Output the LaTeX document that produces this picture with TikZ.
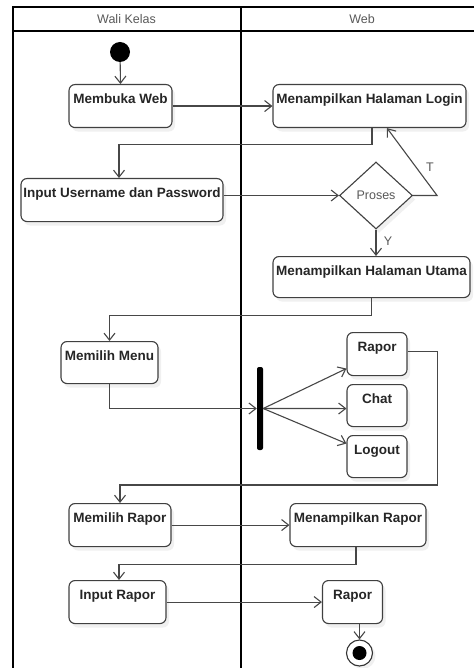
\documentclass[tikz,border=0pt]{standalone}
\usepackage{fontspec}
\setmainfont{Liberation Sans}
\usepackage{xcolor}
\usetikzlibrary{shapes,arrows.meta,positioning,calc,shadows}

\begin{document}
\begin{tikzpicture}[x=1pt, y=-1pt,
            act/.style={draw=black!75, line width=1.1pt, rounded corners=6pt, fill=white, text=black!85,
                font=\fontsize{13.5}{15}\selectfont\bfseries, inner xsep=2pt, inner ysep=0pt,
                text height=18.5pt, text depth=24.5pt, anchor=north,
                drop shadow={shadow xshift=3pt, shadow yshift=-4pt, opacity=0.12}},
            flow/.style={draw=black!72, line width=1.1pt, -{Straight Barb[length=7pt, width=11pt]}},
            lane/.style={draw=black, line width=1.2pt},
            lbl/.style={font=\fontsize{12.5}{14}\selectfont, text=black!65}]
            \useasboundingbox (0,0) rectangle (474,668);

            % Swimlanes
            \draw[lane] (474,7) -- (13,7) -- (13,668);
            \draw[lane] (13,31) -- (474,31);
            \draw[lane] (241,7) -- (241,668);
            \node[lbl] (hwali) at (126.5,19) {Wali Kelas};
            \node[lbl] (hweb) at (362,19) {Web};

            % Start and login
            \node[circle, fill=black, minimum size=20pt, inner sep=0pt] (start) at (120,52) {};
            \node[act, minimum width=103pt] (bukaweb) at (120.5,84) {Membuka Web};
            \node[act, minimum width=193pt] (login) at (369.5,84) {Menampilkan Halaman Login};
            \node[act, minimum width=202pt] (input) at (122,178) {Input Username dan Password};
            \node[diamond, draw=black!75, line width=1.1pt, fill=white, minimum width=73pt, minimum height=67pt,
                inner sep=0pt, lbl, drop shadow={shadow xshift=3pt, shadow yshift=-4pt, opacity=0.12}] (proses) at (376,195.5) {Proses};
            \node[lbl] (tlbl) at (430,167) {T};
            \node[lbl] (ylbl) at (388,241) {Y};
            \node[act, minimum width=197pt, text depth=22.5pt] (utama) at (371.5,256) {Menampilkan Halaman Utama};

            \draw[flow] (start) -- (bukaweb.north);
            \draw[flow] (bukaweb.east) -- (login.west);
            \draw[flow] ([xshift=2.5pt]login.south) -- ++(0,16) -| ([xshift=-3pt]input.north);
            \draw[flow] (input.east |- proses) -- (proses.west);
            \draw[flow] (proses.east) -- ++(24,0) -- ([xshift=17.5pt]login.south);
            \draw[flow] (proses.south) -- (proses.south |- utama.north);

            % Menu
            \node[act, minimum width=97pt, text depth=23.5pt] (menu) at (109.5,341) {Memilih Menu};
            \node[fill=black, minimum width=6pt, minimum height=83pt, inner sep=0pt, rounded corners=2pt] (bar) at (260,408.5) {};
            \node[act, minimum width=60pt] (rapor) at (377,332) {Rapor};
            \node[act, minimum width=60pt, text depth=23.5pt] (chat) at (377,384) {Chat};
            \node[act, minimum width=60pt, text depth=23.5pt] (logout) at (377,435) {Logout};

            \draw[flow] (utama.south) -- ++(0,17) -| (menu.north);
            \draw[flow] (menu.south) |- (bar.west);
            \draw[flow] (bar.east) -- ([yshift=-14.5pt]rapor.west);
            \draw[flow] (bar.east) -- ([yshift=-3pt]chat.west);
            \draw[flow] (bar.east) -- ([yshift=13pt]logout.west);

            % Rapor
            \node[act, minimum width=102pt] (pilihrapor) at (120,503) {Memilih Rapor};
            \node[act, minimum width=136pt] (tampilrapor) at (358,503) {Menampilkan Rapor};
            \node[act, minimum width=97pt] (inputrapor) at (117.5,580) {Input Rapor};
            \node[act, minimum width=60pt] (rapor2) at (352.5,580) {Rapor};
            \node[circle, draw=black!80, line width=1.1pt, fill=white, minimum size=26pt, inner sep=0pt,
                drop shadow={shadow xshift=3pt, shadow yshift=-3pt, opacity=0.12}] (end) at (359.5,653) {};
            \node[circle, fill=black, minimum size=14pt, inner sep=0pt] (endfill) at (end) {};

            \draw[flow] ([yshift=2.5pt]rapor.east) -- ++(30,0) |- ($(pilihrapor.north)+(0,-18)$) -- (pilihrapor.north);
            \draw[flow] (pilihrapor.east) -- (tampilrapor.west);
            \draw[flow] ([xshift=-2pt]tampilrapor.south) -- ++(0,17) -| ([xshift=1.5pt]inputrapor.north);
            \draw[flow] (inputrapor.east) -- (rapor2.west);
            \draw[flow] (end.north |- rapor2.south) -- (end.north);
        \end{tikzpicture}
\end{document}
